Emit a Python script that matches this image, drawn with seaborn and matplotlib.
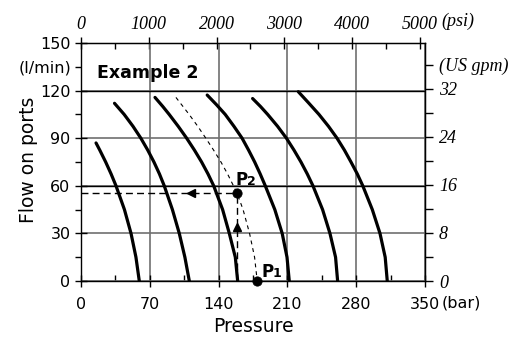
import numpy as np
import pandas as pd
import matplotlib
matplotlib.use("Agg")
import matplotlib.pyplot as plt
import seaborn as sns

# ---------------- data ----------------
curve_names = ["c1", "c2", "c3", "c4", "c5", "c6"]
c1_flow = [87, 82.5, 75, 67.5, 60, 45, 30, 15, 0]
c1_bar = [15.3, 19.1, 25.1, 30.6, 35.6, 44.2, 50.9, 55.9, 59.3]
c2_flow = [112, 105, 97.5, 90, 82.5, 75, 67.5, 60, 45, 30, 15, 0]
c2_bar = [34.1, 43.9, 52.9, 60.9, 67.9, 74.2, 79.8, 84.7, 93.0, 100, 105.7, 110.2]
c3_flow = [115.7, 110, 105, 97.5, 90, 82.5, 75, 67.5, 60, 45, 30, 15, 0]
c3_bar = [75.3, 83.2, 89.7, 98.9, 107.5, 115.4, 122.7, 129.2, 135, 144.1, 150.9, 157.0, 159.4]
c4_flow = [117.2, 111, 105, 97.5, 90, 82.5, 75, 67.5, 60, 45, 30, 15, 0]
c4_bar = [128.4, 138, 146.7, 155.6, 163.9, 170.5, 176.7, 182.3, 187.5, 197.2, 204.7, 209.6, 211.9]
c5_flow = [115, 110, 105, 97.5, 90, 82.5, 75, 67.5, 60, 45, 30, 15, 0]
c5_bar = [174.6, 182.6, 189.9, 200, 209, 216.7, 223.8, 230.2, 236, 245.8, 253.3, 259, 261.1]
c6_flow = [119.3, 112.5, 105, 97.5, 90, 82.5, 75, 67.5, 60, 45, 30, 15, 0]
c6_bar = [221.1, 231.2, 242.1, 251.8, 260.5, 268, 274.7, 281.1, 286.7, 296.4, 304.2, 309.5, 311.6]

dash_flow = [115.7, 105, 97.5, 90, 82.5, 75, 67.5, 55.5, 45, 30, 15, 0]
dash_bar = [96.6, 110, 118.8, 127, 134.9, 142.4, 149.1, 158.7, 164.9, 171.5, 176.6, 179.3]

p2_bar, p2_flow = 158.7, 55.5
p1_bar, p1_flow = 179.3, 0.0
arrow_h_bar = 112        # left-pointing arrow head on the horizontal line
arrow_v_flow = 34        # up-pointing arrow head on the vertical line

x_major = [0, 70, 140, 210, 280, 350]
x_minor = [35, 105, 175, 245, 315]
y_major = [0, 30, 60, 90, 120, 150]
y_minor = [15, 45, 75, 105, 135]
y_minor_labels = ["", "", "", "", "(l/min)"]
psi_major = [0, 1000, 2000, 3000, 4000, 5000]
psi_minor = [500, 1500, 2500, 3500, 4500]
gpm_major = [0, 8, 16, 24, 32]
gpm_minor = [4, 12, 20, 28, 36]
gpm_minor_labels = ["", "", "", "", "(US gpm)"]
black_grid_flow = [60, 120]

BAR_TO_PSI = 14.5038
GPM_TO_LPM = 3.785

# ---------------- build table ----------------
rows = []
for name, fl, br in zip(curve_names,
                        [c1_flow, c2_flow, c3_flow, c4_flow, c5_flow, c6_flow],
                        [c1_bar, c2_bar, c3_bar, c4_bar, c5_bar, c6_bar]):
    for f, b in zip(fl, br):
        rows.append({"curve": name, "pressure": b, "flow": f})
df = pd.DataFrame(rows)
df_dash = pd.DataFrame({"pressure": dash_bar, "flow": dash_flow, "curve": "d"})

# ---------------- figure ----------------
sns.set_style("ticks")
plt.rcParams["font.family"] = ["DejaVu Sans"]
for k in ["text.color", "axes.labelcolor", "xtick.color", "ytick.color",
          "axes.edgecolor"]:
    plt.rcParams[k] = "black"

W, H = 514, 337
fig = plt.figure(figsize=(W / 100, H / 100), dpi=100)
ax = fig.add_axes([81 / W, (H - 281) / H, 344 / W, 238 / H])

ax.set_xlim(0, 350)
ax.set_ylim(0, 150)

gray = "#707070"
ax.grid(True, which="major", color=gray, lw=1.2, zorder=0)
ax.set_axisbelow(True)
for v in black_grid_flow:
    ax.axhline(v, color="black", lw=1.0, zorder=1)

sns.lineplot(data=df, x="pressure", y="flow", units="curve", estimator=None,
             sort=False, color="black", lw=2.3, ax=ax, zorder=3)
sns.lineplot(data=df_dash, x="pressure", y="flow", estimator=None, sort=False,
             color="black", lw=0.8, ax=ax, zorder=3, linestyle=(0, (3.5, 3.5)))

# guide lines from P2
ax.plot([0, p2_bar], [p2_flow, p2_flow], color="black", lw=1.0,
        linestyle=(0, (5, 3)), zorder=3)
ax.plot([p2_bar, p2_bar], [0, p2_flow], color="black", lw=1.0,
        linestyle=(0, (5, 3)), zorder=3)
ax.plot([arrow_h_bar], [p2_flow], marker="<", color="black", ms=5.5, zorder=4)
ax.plot([p2_bar], [arrow_v_flow], marker="^", color="black", ms=5.5, zorder=4)

pts = pd.DataFrame({"pressure": [p2_bar, p1_bar], "flow": [p2_flow, p1_flow]})
sns.scatterplot(data=pts, x="pressure", y="flow", color="black", s=45,
                edgecolor="black", zorder=5, ax=ax, clip_on=False)

# labels P1/P2
ax.text(157.5, 60.5, "P", fontsize=12, fontweight="bold", va="baseline", ha="left")
ax.text(168.5, 60.5, "2", fontsize=9, fontweight="bold", va="baseline", ha="left")
ax.text(183.8, 2.5, "P", fontsize=12, fontweight="bold", va="baseline", ha="left")
ax.text(194.8, 2.5, "1", fontsize=9, fontweight="bold", va="baseline", ha="left")

ax.text(16, 128.2, "Example 2", fontsize=12.5, fontweight="bold", va="baseline")

# primary ticks
ax.set_xticks(x_major, [str(v) for v in x_major])
ax.set_xticks(x_minor, minor=True)
ax.set_yticks(y_major, [str(v) for v in y_major])
ax.set_yticks(y_minor, y_minor_labels, minor=True)
ax.tick_params(axis="both", which="major", direction="inout", length=9,
               width=1, labelsize=11.5, color="black")
ax.tick_params(axis="x", which="minor", direction="in", length=4, width=1)
ax.tick_params(axis="y", which="minor", direction="out", length=4, width=1,
               labelsize=11.5)
ax.tick_params(axis="x", which="major", pad=7)
ax.tick_params(axis="y", which="both", pad=3)
ax.set_xlabel("")
ax.set_ylabel("")
for s in ax.spines.values():
    s.set_color("black")
    s.set_linewidth(1.0)

serif = dict(fontfamily="Liberation Serif", fontstyle="italic", fontsize=13)

secx = ax.secondary_xaxis("top", functions=(lambda b: b * BAR_TO_PSI,
                                             lambda p: p / BAR_TO_PSI))
secx.set_xticks(psi_major, [str(v) for v in psi_major], **serif)
secx.set_xticks(psi_minor, minor=True)
secx.tick_params(which="major", direction="inout", length=9, width=1, pad=3)
secx.tick_params(which="minor", direction="in", length=4, width=1)

secy = ax.secondary_yaxis("right", functions=(lambda l: l / GPM_TO_LPM,
                                               lambda g: g * GPM_TO_LPM))
secy.set_yticks(gpm_major, [str(v) for v in gpm_major], **serif)
secy.set_yticks(gpm_minor, gpm_minor_labels, minor=True, **serif)
secy.tick_params(which="both", direction="out", length=6, width=1, pad=4)

fig.text(441.7 / W, 1 - 21 / H, "(psi)", ha="left", va="center", **serif)
fig.text(442 / W, 1 - 303 / H, "(bar)", ha="left", va="center", fontsize=11.5)

fig.text(253 / W, 1 - 326 / H, "Pressure", ha="center", va="center", fontsize=13.5)
fig.text(28 / W, 1 - 160 / H, "Flow on ports", ha="center", va="center",
         rotation=90, fontsize=13.5)

# make sure the secondary-axis labels are italic serif
fig.canvas.draw()
for axis in (secx.xaxis, secy.yaxis):
    for t in axis.get_ticklabels(which="both"):
        t.set_fontfamily("Liberation Serif")
        t.set_fontstyle("italic")
        t.set_fontsize(13)

fig.savefig("out.png", dpi=100)
